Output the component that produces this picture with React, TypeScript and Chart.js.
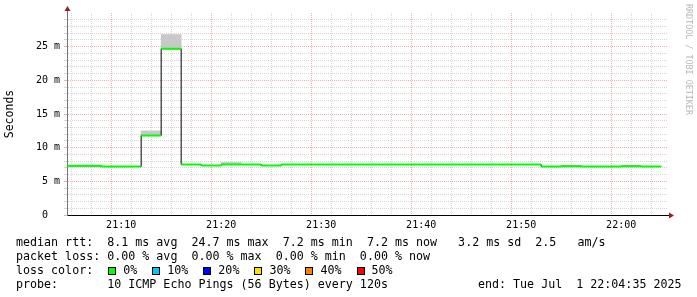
import React, { useEffect, useRef } from "react";
import { Chart, registerables } from "chart.js";

Chart.register(...registerables);

// ---- data (minutes after 21:00, values in ms) ----
const sampleMinutes = [4, 6, 8, 10, 12, 14, 16, 18, 20, 22, 24, 26, 28, 30, 32, 34, 36, 38, 40, 42, 44, 46, 48, 50, 52, 54, 56, 58, 60, 62];
const medianMs = [7.3, 7.3, 7.2, 7.2, 11.8, 24.7, 7.5, 7.35, 7.5, 7.5, 7.35, 7.5, 7.5, 7.5, 7.5, 7.5, 7.5, 7.5, 7.5, 7.5, 7.5, 7.5, 7.5, 7.5, 7.2, 7.25, 7.2, 7.2, 7.25, 7.2];
const smokeLowMs = [null, null, null, null, 11.8, 24.7, null, null, 7.5, null, null, null, null, null, null, null, null, null, null, null, null, null, null, null, null, null, null, null, null, null];
const smokeHighMs = [null, null, null, null, 12.5, 26.8, null, null, 7.8, null, null, null, null, null, null, null, null, null, null, null, null, null, null, null, null, null, null, null, null, null];
const stepMinutes = 2;
const axisStartMinute = 4 + 35 / 60;
const axisEndMinute = 64 + 35 / 60;
const majorMinutes = [10, 20, 30, 40, 50, 60];
const timeLabels = ["21:10", "21:20", "21:30", "21:40", "21:50", "22:00"];
const yMaxMs = 30;
const yTickValues = [0, 5, 10, 15, 20, 25];
const yTickLabels = ["0  ", "5 m", "10 m", "15 m", "20 m", "25 m"];
const lossLabels = ["0%", "10%", "20%", "30%", "40%", "50%"];
const lossColors = ["#00ff00", "#00c8ff", "#0000ff", "#ffe000", "#ff8000", "#ff0000"];
const statLine = "median rtt:  8.1 ms avg  24.7 ms max  7.2 ms min  7.2 ms now   3.2 ms sd  2.5   am/s";
const lossLine = "packet loss: 0.00 % avg  0.00 % max  0.00 % min  0.00 % now";
const probeLine = "probe:       10 ICMP Echo Pings (56 Bytes) every 120s";
const endLine = "end: Tue Jul  1 22:04:35 2025";
const watermark = "RRDTOOL / TOBI OETIKER";

const MONO = "'DejaVu Sans Mono', monospace";
const MINOR_GRID = "#d6d6d6";
const MAJOR_GRID = "#f0b0b0";

const arrowPlugin = {
  id: "rrdArrows",
  afterDraw(chart: any) {
    const { ctx, chartArea } = chart;
    const { left, right, top, bottom } = chartArea;
    ctx.save();
    ctx.strokeStyle = "#777777";
    ctx.lineWidth = 1;
    ctx.beginPath();
    ctx.moveTo(left + 0.5, top);
    ctx.lineTo(left + 0.5, top - 4);
    ctx.stroke();
    ctx.strokeStyle = "#000000";
    ctx.beginPath();
    ctx.moveTo(right, bottom + 0.5);
    ctx.lineTo(right + 2, bottom + 0.5);
    ctx.stroke();
    ctx.fillStyle = "#9a1c1c";
    ctx.beginPath();
    ctx.moveTo(left + 0.5, top - 7);
    ctx.lineTo(left + 3.5, top - 2);
    ctx.lineTo(left - 2.5, top - 2);
    ctx.closePath();
    ctx.fill();
    ctx.beginPath();
    ctx.moveTo(right + 7, bottom + 0.5);
    ctx.lineTo(right + 2, bottom - 2.5);
    ctx.lineTo(right + 2, bottom + 3.5);
    ctx.closePath();
    ctx.fill();
    ctx.restore();
  },
};

function RrdChart() {
  const ref = useRef<HTMLCanvasElement | null>(null);
  useEffect(() => {
    if (!ref.current) return;
    const greenPts: any[] = [];
    sampleMinutes.forEach((t, i) => {
      greenPts.push({ x: t, y: medianMs[i] });
      greenPts.push({ x: t + stepMinutes, y: medianMs[i] });
      greenPts.push({ x: t + stepMinutes, y: null });
    });
    const blackPts: any[] = sampleMinutes.map((t, i) => ({ x: t, y: medianMs[i] }));
    blackPts.push({ x: sampleMinutes[sampleMinutes.length - 1] + stepMinutes, y: medianMs[medianMs.length - 1] });
    const smokePts: any[] = [];
    sampleMinutes.forEach((t, i) => {
      const lo = smokeLowMs[i];
      const hi = smokeHighMs[i];
      if (lo !== null && hi !== null) smokePts.push({ x: t + stepMinutes / 2, y: [lo, hi] });
    });
    const gridMinutes: number[] = [];
    for (let m = 6; m <= 64; m += 2) gridMinutes.push(m);
    const yGrid: number[] = [];
    for (let v = 0; v < yMaxMs; v += 1) yGrid.push(v);

    const chart = new Chart(ref.current, {
      type: "line",
      data: {
        datasets: [
          {
            type: "line",
            data: greenPts,
            borderColor: "#00ff00",
            borderWidth: 2,
            pointRadius: 0,
            spanGaps: false,
            order: 0,
          } as any,
          {
            type: "line",
            data: blackPts,
            borderColor: "#000000",
            borderWidth: 1,
            pointRadius: 0,
            stepped: true,
            order: 1,
          } as any,
          {
            type: "bar",
            data: smokePts,
            backgroundColor: "#c8c8c8",
            borderWidth: 0,
            barPercentage: 1,
            categoryPercentage: 1,
            grouped: false,
            order: 2,
          } as any,
        ],
      },
      options: {
        animation: false,
        responsive: false,
        maintainAspectRatio: false,
        parsing: true,
        layout: { padding: { left: 0, right: 30, top: 13, bottom: 0 } },
        plugins: { legend: { display: false }, tooltip: { enabled: false } },
        scales: {
          x: {
            type: "linear",
            min: axisStartMinute,
            max: axisEndMinute,
            offset: false,
            afterBuildTicks: (s: any) => {
              s.ticks = gridMinutes.map((v) => ({ value: v }));
            },
            afterFit: (s: any) => {
              s.height = 82;
            },
            grid: {
              color: (c: any) => (majorMinutes.includes(c.tick?.value) ? MAJOR_GRID : MINOR_GRID),
              lineWidth: 1,
              drawTicks: false,
            },
            border: { display: true, color: "#000000", width: 1, dash: [1, 1] },
            ticks: {
              autoSkip: false,
              maxRotation: 0,
              padding: 4,
              color: "#000000",
              font: { family: MONO, size: 10 },
              callback: (v: any) => {
                const idx = majorMinutes.indexOf(Number(v));
                return idx >= 0 ? timeLabels[idx] : "";
              },
            },
          },
          y: {
            type: "linear",
            min: 0,
            max: yMaxMs,
            afterBuildTicks: (s: any) => {
              s.ticks = yGrid.map((v) => ({ value: v }));
            },
            afterFit: (s: any) => {
              s.width = 67;
            },
            grid: {
              color: (c: any) => (c.tick && c.tick.value % 5 === 0 ? MAJOR_GRID : MINOR_GRID),
              lineWidth: 1,
              drawTicks: true,
              tickLength: 3,
            },
            border: { display: true, color: "#777777", width: 1, dash: [1, 1] },
            title: {
              display: true,
              text: "Seconds",
              color: "#000000",
              font: { family: MONO, size: 11.5 },
              padding: { top: 3, bottom: 0 },
            },
            ticks: {
              autoSkip: false,
              padding: 4,
              color: "#000000",
              font: { family: MONO, size: 10 },
              callback: (v: any) => {
                const idx = yTickValues.indexOf(Number(v));
                return idx >= 0 ? yTickLabels[idx] : "";
              },
            },
          },
        },
      } as any,
      plugins: [arrowPlugin],
    });
    return () => chart.destroy();
  }, []);
  return <canvas ref={ref} width={697} height={297} style={{ position: "absolute", left: 0, top: 0, width: 697, height: 297 }} />;
}

export default function App() {
  const textStyle: React.CSSProperties = {
    position: "absolute",
    left: 16,
    fontFamily: MONO,
    fontSize: 11.66,
    lineHeight: "14px",
    whiteSpace: "pre",
    color: "#000",
  };
  return (
    <div style={{ position: "absolute", left: 0, top: 0, width: 697, height: 297, background: "#fff", overflow: "hidden" }}>
      <RrdChart />
      <div style={{ ...textStyle, top: 235 }}>{statLine}</div>
      <div style={{ ...textStyle, top: 249 }}>{lossLine}</div>
      <div style={{ ...textStyle, top: 263 }}>
        {"loss color:  "}
        {lossLabels.map((l, i) => (
          <span key={l}>
            <span
              style={{
                display: "inline-block",
                width: 6,
                height: 6,
                border: "1px solid #000",
                background: lossColors[i],
                marginLeft: i === 0 ? 1 : 15,
                marginRight: 7,
                verticalAlign: "-1px",
              }}
            />
            {l}
          </span>
        ))}
      </div>
      <div style={{ ...textStyle, top: 277 }}>{probeLine}</div>
      <div style={{ ...textStyle, left: 478, top: 277 }}>{endLine}</div>
      <div
        style={{
          position: "absolute",
          left: 684,
          top: 4,
          writingMode: "vertical-rl",
          fontFamily: MONO,
          fontSize: 8.4,
          color: "#b8b8b8",
          whiteSpace: "pre",
        }}
      >
        {watermark}
      </div>
    </div>
  );
}
